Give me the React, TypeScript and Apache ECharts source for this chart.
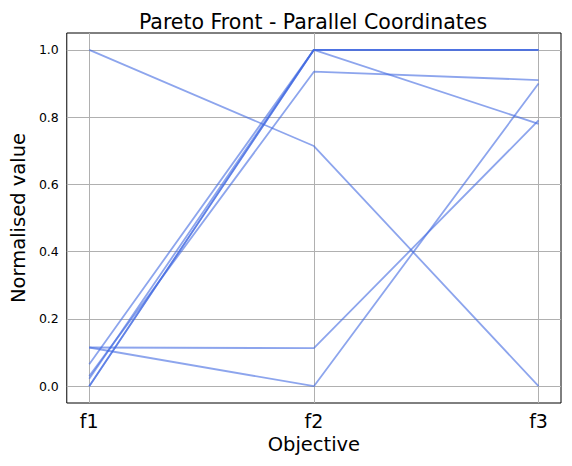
import React, { useEffect, useRef } from "react";
import * as echarts from "echarts";

const objectives = ["f1", "f2", "f3"];
const yTicks = [0, 0.2, 0.4, 0.6, 0.8, 1.0];

// Each solution: normalised values for f1, f2, f3
const solA = [1.0, 0.714, 0.0];
const solB = [0.115, 0.113, 0.79];
const solC = [0.115, 0.0, 0.9];
const solD = [0.03, 0.935, 0.91];
const solE = [0.065, 1.0, 1.0];
const solF = [0.0, 1.0, 1.0];
const solG = [0.0, 1.0, 0.78];
const solH = [0.022, 1.0, 1.0];
const solutions = [solA, solB, solC, solD, solE, solF, solG, solH];

const FONT = "DejaVu Sans";

export default function App() {
  const ref = useRef<HTMLDivElement>(null);
  useEffect(() => {
    document.body.style.margin = "0";
    if (!ref.current) return;
    const chart = echarts.init(ref.current, undefined, { renderer: "svg" });
    const xIdx = objectives.map((_, i) => i);
    const series: any[] = [
      {
        type: "line",
        data: [],
        z: 1,
        silent: true,
        markLine: {
          silent: true,
          z: 1,
          symbol: "none",
          animation: false,
          label: { show: false },
          lineStyle: { color: "#b0b0b0", width: 1, type: "solid" },
          data: [
            ...xIdx.map((v) => ({ xAxis: v })),
            ...yTicks.map((v) => ({ yAxis: v })),
          ],
        },
      },
      ...solutions.map((s) => ({
        type: "line",
        z: 3,
        data: s.map((v, i) => [i, v]),
        showSymbol: false,
        symbol: "none",
        lineStyle: { color: "#4169E1", opacity: 0.6, width: 1.8 },
      })),
    ];
    chart.setOption({
      animation: false,
      title: {
        text: "Pareto Front - Parallel Coordinates",
        left: 308,
        textAlign: "center",
        top: 6,
        textStyle: { fontFamily: FONT, fontSize: 20.5, fontWeight: "normal", color: "#000" },
      },
      grid: {
        left: 66,
        right: 11,
        top: 33,
        bottom: 63,
        show: true,
        borderColor: "#000",
        borderWidth: 1,
        backgroundColor: "transparent",
      },
      xAxis: {
        type: "value",
        min: -0.1,
        max: 2.1,
        axisLine: { show: false },
        splitLine: { show: false },
        axisTick: { show: true, length: 5, customValues: xIdx, lineStyle: { color: "#000" } },
        axisLabel: {
          customValues: xIdx,
          formatter: (v: number) => objectives[Math.round(v)] ?? "",
          fontFamily: FONT,
          fontSize: 19,
          color: "#000",
          margin: 8,
        },
        name: "Objective",
        nameLocation: "middle",
        nameGap: 29,
        nameTextStyle: { fontFamily: FONT, fontSize: 19.5, color: "#000" },
      },
      yAxis: {
        type: "value",
        min: -0.05,
        max: 1.05,
        axisLine: { show: false },
        splitLine: { show: false },
        axisTick: { show: true, length: 5, customValues: yTicks, lineStyle: { color: "#000" } },
        axisLabel: {
          customValues: yTicks,
          formatter: (v: number) => v.toFixed(1),
          fontFamily: FONT,
          fontSize: 12.5,
          color: "#000",
          margin: 8,
        },
        name: "Normalised value",
        nameLocation: "middle",
        nameGap: 29,
        nameTextStyle: { fontFamily: FONT, fontSize: 19.5, color: "#000" },
      },
      series,
    });
    return () => chart.dispose();
  }, []);
  return <div ref={ref} style={{ width: 572, height: 466 }} />;
}
